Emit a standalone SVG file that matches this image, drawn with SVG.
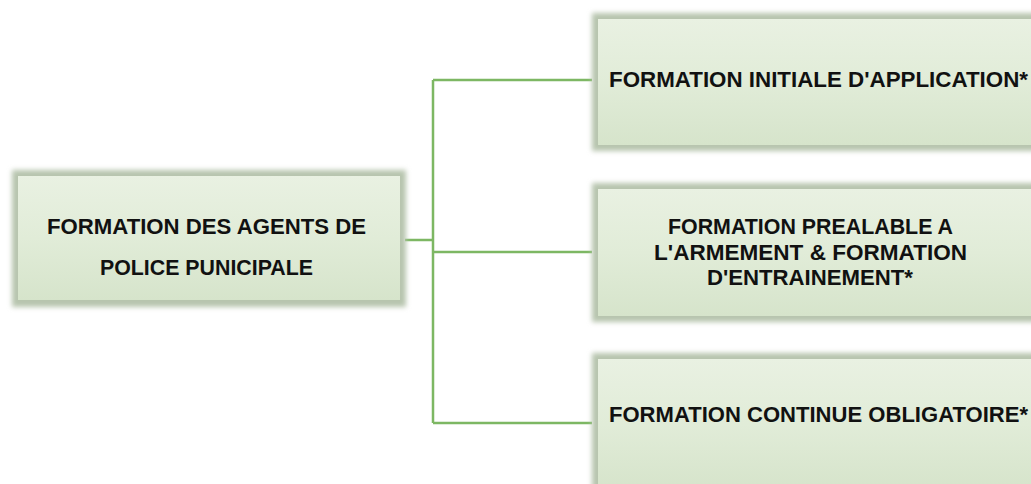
<svg xmlns="http://www.w3.org/2000/svg" width="1031" height="484" viewBox="0 0 1031 484">
<defs>
<linearGradient id="g" x1="0" y1="0" x2="0" y2="1">
<stop offset="0" stop-color="#e9f1e2"/>
<stop offset="0.5" stop-color="#e1ecd8"/>
<stop offset="1" stop-color="#d6e4cb"/>
</linearGradient>
<filter id="soft" x="-5%" y="-10%" width="110%" height="120%">
<feGaussianBlur stdDeviation="2.5"/>
</filter>
</defs>
<style>
.frame{fill:#b7c5ae;filter:url(#soft)}
.box{fill:url(#g)}
.lbl{font-family:"Liberation Sans","Open Sans",sans-serif;font-weight:700;font-size:22px;fill:#111;text-anchor:middle}
.conn{stroke:#7db763;stroke-width:2.5;fill:none}
</style>
<g id="connectors">
<path class="conn" d="M405 240H433M433 80V423M433 80H592M433 252H592M433 423H592"/>
</g>
<g id="root">
<rect class="frame" x="12" y="170" width="394" height="137"/>
<rect class="box" x="18" y="176" width="382" height="124"/>
<text class="lbl" x="206.5" y="234" textLength="319" lengthAdjust="spacingAndGlyphs">FORMATION DES AGENTS DE</text>
<text class="lbl" x="206.5" y="275" textLength="213" lengthAdjust="spacingAndGlyphs">POLICE PUNICIPALE</text>
</g>
<g id="n1">
<rect class="frame" x="592" y="13" width="450" height="138"/>
<rect class="box" x="598" y="19" width="440" height="126"/>
<text class="lbl" x="818.5" y="87" textLength="419" lengthAdjust="spacingAndGlyphs">FORMATION INITIALE D'APPLICATION*</text>
</g>
<g id="n2">
<rect class="frame" x="592" y="183" width="450" height="139"/>
<rect class="box" x="598" y="189" width="440" height="127"/>
<text class="lbl" x="810.5" y="234" textLength="285" lengthAdjust="spacingAndGlyphs">FORMATION PREALABLE A</text>
<text class="lbl" x="810.5" y="260" textLength="313" lengthAdjust="spacingAndGlyphs">L'ARMEMENT &amp; FORMATION</text>
<text class="lbl" x="810" y="285" textLength="206" lengthAdjust="spacingAndGlyphs">D'ENTRAINEMENT*</text>
</g>
<g id="n3">
<rect class="frame" x="592" y="353" width="450" height="140"/>
<rect class="box" x="598" y="359" width="440" height="130"/>
<text class="lbl" x="818.5" y="422" textLength="419" lengthAdjust="spacingAndGlyphs">FORMATION CONTINUE OBLIGATOIRE*</text>
</g>
</svg>
